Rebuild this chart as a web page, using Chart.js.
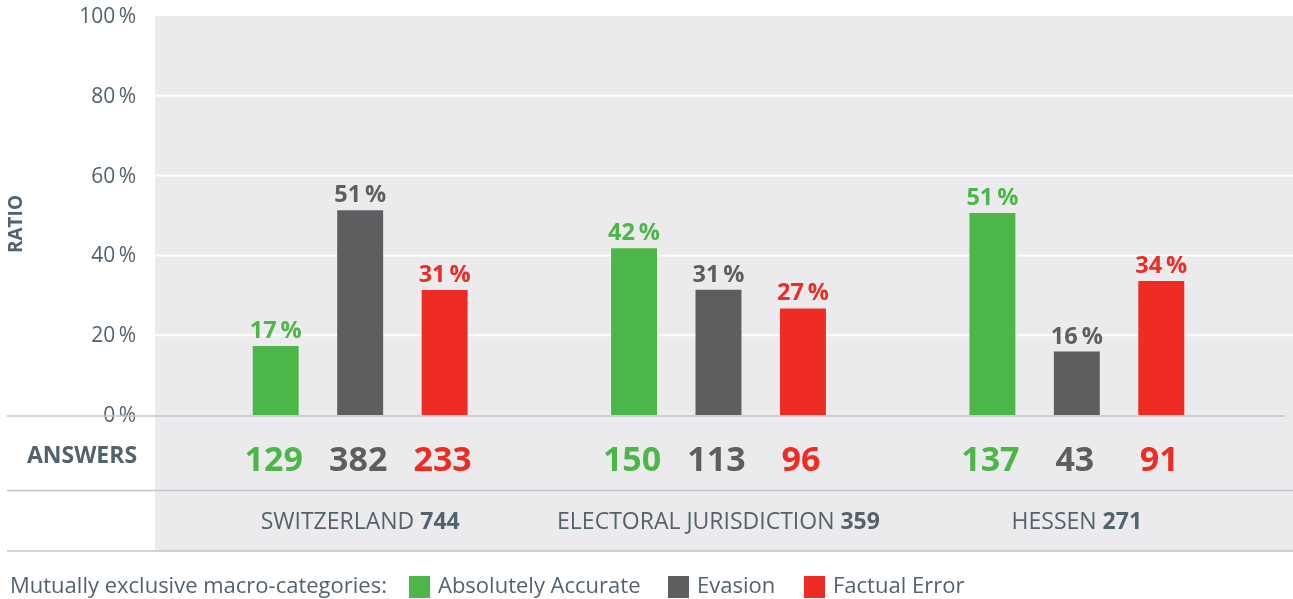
<!DOCTYPE html>
<html>
<head>
<meta charset="utf-8">
<script src="https://cdn.jsdelivr.net/npm/chart.js@4"></script>
<style>
  body { margin: 0; background: #fff; }
  #wrap { width: 1293px; height: 599px; position: relative; }
</style>
</head>
<body>
<div id="wrap"><canvas id="ratioChart"></canvas></div>
<script>
const regions = ["SWITZERLAND", "ELECTORAL JURISDICTION", "HESSEN"];
const regionTotals = [744, 359, 271];
const seriesNames = ["Absolutely Accurate", "Evasion", "Factual Error"];
const accurate = [17.3, 41.8, 50.6];
const evasion = [51.3, 31.4, 15.9];
const factual = [31.3, 26.7, 33.6];
const accurateCounts = [129, 150, 137];
const evasionCounts = [382, 113, 43];
const factualCounts = [233, 96, 91];
const yTicks = [0, 20, 40, 60, 80, 100];

const colors = ['#4cb748', '#5d5e60', '#ee2c24'];
const counts = [accurateCounts, evasionCounts, factualCounts];
const slate = '#52636e';
const FONT = '"Open Sans", "Noto Sans", sans-serif';

function hline(ctx, x1, x2, y, color, w) {
    ctx.save();
    ctx.strokeStyle = color;
    ctx.lineWidth = w;
    ctx.beginPath();
    ctx.moveTo(x1, y);
    ctx.lineTo(x2, y);
    ctx.stroke();
    ctx.restore();
}

// background, grid, labels below the chart and legend
const decor = {
    id: 'decor',
    beforeDatasetsDraw(chart) {
        const ctx = chart.ctx;
        const y = chart.scales.y;
        const top = y.getPixelForValue(100);
        const base = y.getPixelForValue(0);
        ctx.save();
        ctx.fillStyle = '#ebebed';
        ctx.fillRect(155, top, 1293 - 155, 551 - top);

        yTicks.forEach(v => {
            const py = y.getPixelForValue(v);
            if (v > 0 && v < 100) hline(ctx, 155, 1293, py, '#ffffff', 2);
            ctx.fillStyle = slate;
            ctx.font = '21px ' + FONT;
            ctx.textAlign = 'right';
            ctx.textBaseline = 'middle';
            ctx.fillText(v + '\u2009%', 136, py + 1);
        });
        hline(ctx, 7, 1285, base + 1, '#c4c4c8', 1.5);
        hline(ctx, 7, 1293, 490.5, '#c4c4c8', 1.5);
        hline(ctx, 7, 1293, 551, '#c4c4c8', 1.5);

        // axis title
        ctx.save();
        ctx.translate(17, 224);
        ctx.rotate(-Math.PI / 2);
        ctx.font = 'bold 19px ' + FONT;
        ctx.fillStyle = slate;
        ctx.textAlign = 'center';
        ctx.textBaseline = 'middle';
        ctx.fillText('RATIO', 0, 0);
        ctx.restore();

        ctx.font = 'bold 23px ' + FONT;
        ctx.fillStyle = slate;
        ctx.textAlign = 'center';
        ctx.textBaseline = 'middle';
        ctx.fillText('ANSWERS', 82, 456);

        // region labels
        const xs = chart.scales.x;
        regions.forEach((r, i) => {
            const cx = xs.getPixelForValue(i);
            const name = r + ' ';
            const tot = String(regionTotals[i]);
            ctx.font = '23px ' + FONT;
            const w1 = ctx.measureText(name).width;
            ctx.font = 'bold 23px ' + FONT;
            const w2 = ctx.measureText(tot).width;
            let x0 = cx - (w1 + w2) / 2;
            ctx.textAlign = 'left';
            ctx.font = '23px ' + FONT;
            ctx.fillText(name, x0, 522);
            ctx.font = 'bold 23px ' + FONT;
            ctx.fillText(tot, x0 + w1, 522);
        });

        // legend
        ctx.font = '22px ' + FONT;
        ctx.textAlign = 'left';
        ctx.fillStyle = slate;
        ctx.fillText('Mutually exclusive macro-categories:', 10, 587);
        const legX = [409, 668, 804];
        seriesNames.forEach((s, i) => {
            ctx.fillStyle = colors[i];
            ctx.fillRect(legX[i], 576, 21, 22);
            ctx.fillStyle = slate;
            ctx.fillText(s, legX[i] + 29, 587);
        });
        ctx.restore();
    },
    afterDatasetsDraw(chart) {
        const ctx = chart.ctx;
        ctx.save();
        ctx.textAlign = 'center';
        chart.data.datasets.forEach((ds, di) => {
            const meta = chart.getDatasetMeta(di);
            meta.data.forEach((bar, i) => {
                ctx.fillStyle = colors[di];
                ctx.font = 'bold 23.5px ' + FONT;
                ctx.textBaseline = 'alphabetic';
                ctx.fillText(Math.round(ds.data[i]) + '\u2009%', bar.x, bar.y - 8);
                ctx.font = 'bold 34px ' + FONT;
                ctx.textBaseline = 'middle';
                ctx.fillText(String(counts[di][i]), bar.x - 2, 461);
            });
        });
        ctx.restore();
    }
};

new Chart(document.getElementById('ratioChart').getContext('2d'), {
    type: 'bar',
    data: {
        labels: regions,
        datasets: [
            { label: seriesNames[0], data: accurate, backgroundColor: colors[0] },
            { label: seriesNames[1], data: evasion, backgroundColor: colors[1] },
            { label: seriesNames[2], data: factual, backgroundColor: colors[2] }
        ]
    },
    options: {
        responsive: true,
        maintainAspectRatio: false,
        animation: false,
        devicePixelRatio: 1,
        categoryPercentage: 0.707,
        barPercentage: 0.544,
        layout: { padding: { left: 181, right: 37, top: 16, bottom: 184 } },
        scales: {
            x: { display: false },
            y: { display: false, min: 0, max: 100 }
        },
        plugins: {
            legend: { display: false },
            tooltip: { enabled: false }
        }
    },
    plugins: [decor]
});
</script>
</body>
</html>
